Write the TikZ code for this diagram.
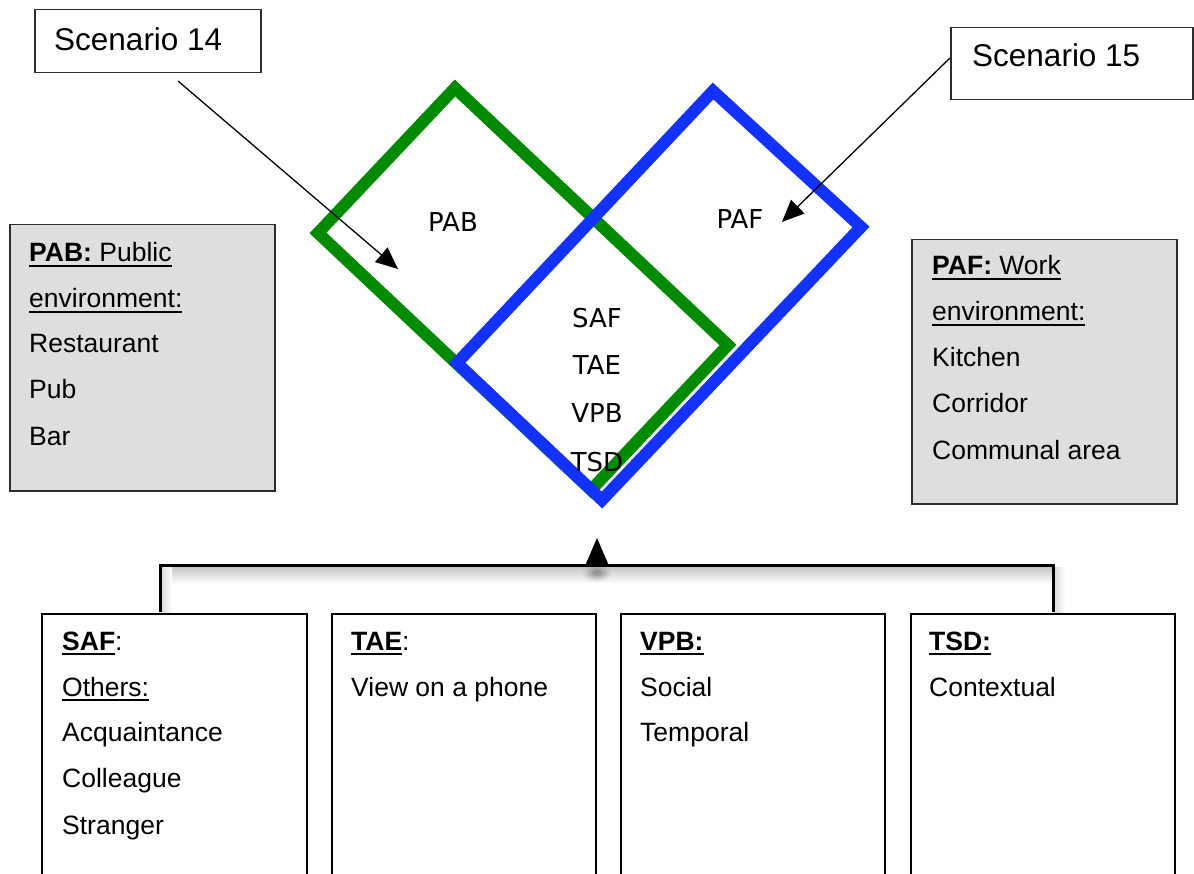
\documentclass[tikz,border=0pt]{standalone}
\usepackage{fontspec}
\setmainfont{Liberation Sans}
\newfontfamily\dejavu{DejaVu Sans}
\usetikzlibrary{arrows.meta}

% underline drawn as a rule under the measured text
\newsavebox{\ulsave}
\newcommand{\ulbox}[1]{\sbox{\ulsave}{#1}\rlap{\rule[-4.6pt]{\wd\ulsave}{1.7pt}}\usebox{\ulsave}}

\definecolor{vgreen}{RGB}{0,138,0}
\definecolor{vblue}{RGB}{20,50,255}
\definecolor{panelgray}{RGB}{222,222,222}
\definecolor{edgegray}{RGB}{45,45,45}

\begin{document}
\begin{tikzpicture}[x=1pt,y=-1pt,
  txt/.style={anchor=base west, inner sep=0, font=\fontsize{26.5}{30}\selectfont},
  lbl/.style={anchor=center, inner sep=0, font=\dejavu\fontsize{26}{30}\selectfont},
  callout/.style={draw=edgegray, line width=1.5pt, fill=white, anchor=north west, inner sep=0},
  panel/.style={draw=edgegray, line width=1.5pt, fill=panelgray, anchor=north west, inner sep=0},
  infobox/.style={draw=black, line width=1.8pt, fill=white, anchor=north west, inner sep=0},
  pointer/.style={line width=1.3pt, -{Triangle[length=22pt, width=19pt]}},
  bracket/.style={line width=3pt, line join=miter},
]
\useasboundingbox (0,0) rectangle (1194,874);
\clip (0,0) rectangle (1194,874);

% the two overlapping frames
\draw[vgreen, line width=12pt, line join=miter]
  (455,88) -- (728,345) -- (591,490) -- (318,233) -- cycle;
\draw[vblue, line width=12pt, line join=miter]
  (713,91) -- (861,227) -- (602,500) -- (457,363) -- cycle;

\node[lbl] (pab) at (453,222) {PAB};
\node[lbl] (paf) at (740,219) {PAF};
\node[lbl] (saf) at (597,318) {SAF};
\node[lbl] (tae) at (597,365) {TAE};
\node[lbl] (vpb) at (597,413) {VPB};
\node[lbl] (tsd) at (597,462) {TSD};

% scenario callouts
\node[callout, minimum width=226pt, minimum height=63pt] (s14) at (34,9) {};
\node[txt, font=\fontsize{31.5}{36}\selectfont] (s14t) at (54,51) {Scenario 14};
\node[callout, minimum width=242pt, minimum height=72pt] (s15) at (950,27) {};
\node[txt, font=\fontsize{31.5}{36}\selectfont] (s15t) at (972,67) {Scenario 15};

\coordinate (a14s) at (178,81);
\coordinate (a14e) at (398,269);
\coordinate (a15s) at (950,58);
\coordinate (a15e) at (782,222);
\draw[pointer] (a14s) -- (a14e);
\draw[pointer] (a15s) -- (a15e);

% side panels
\node[panel, minimum width=265pt, minimum height=266pt] (pabbox) at (9,224) {};
\node[txt] (pab1) at (29,262) {\ulbox{\textbf{PAB:} Public}};
\node[txt] (pab2) at (29,308) {\ulbox{environment:}};
\node[txt] (pab3) at (29,353) {Restaurant};
\node[txt] (pab4) at (29,399) {Pub};
\node[txt] (pab5) at (29,445) {Bar};

\node[panel, minimum width=265pt, minimum height=264pt] (pafbox) at (911,239) {};
\node[txt] (paf1) at (932,275) {\ulbox{\textbf{PAF:} Work}};
\node[txt] (paf2) at (932,321) {\ulbox{environment:}};
\node[txt] (paf3) at (932,367) {Kitchen};
\node[txt] (paf4) at (932,413) {Corridor};
\node[txt] (paf5) at (932,459) {Communal area};

% soft shadow under the bracket
\shade[top color=black!22, bottom color=white] (160,567) rectangle (1053,584);
\shade[left color=black!15, right color=white] (161,567) rectangle (172,612);
\shade[left color=black!15, right color=white] (1054,567) rectangle (1065,612);
\foreach \r/\o in {14/0.05,11/0.07,8/0.09,5/0.12}
  \fill[black, opacity=\o] (597,573) ellipse ({\r pt} and {0.6*\r pt});

% bottom boxes
\node[infobox, minimum width=265pt, minimum height=300pt] (b1) at (41,613) {};
\node[infobox, minimum width=264pt, minimum height=300pt] (b2) at (331,613) {};
\node[infobox, minimum width=264pt, minimum height=300pt] (b3) at (620,613) {};
\node[infobox, minimum width=264pt, minimum height=300pt] (b4) at (910,613) {};

\node[txt] (saf1) at (62,650) {\ulbox{\textbf{SAF}}:};
\node[txt] (saf2) at (62,696) {\ulbox{Others:}};
\node[txt] (saf3) at (62,741) {Acquaintance};
\node[txt] (saf4) at (62,787) {Colleague};
\node[txt] (saf5) at (62,834) {Stranger};

\node[txt] (tae1) at (351,650) {\ulbox{\textbf{TAE}}:};
\node[txt] (tae2) at (351,696) {View on a phone};

\node[txt] (vpb1) at (640,650) {\ulbox{\textbf{VPB:}}};
\node[txt] (vpb2) at (640,696) {Social};
\node[txt] (vpb3) at (640,741) {Temporal};

\node[txt] (tsd1) at (929,650) {\ulbox{\textbf{TSD:}}};
\node[txt] (tsd2) at (929,696) {Contextual};

% bracket joining the boxes to the frames
\coordinate (j1) at (160,612);
\coordinate (j4) at (1053,612);
\coordinate (jl) at (160,565);
\coordinate (jr) at (1053,565);
\coordinate (jm) at (597,565);
\coordinate (tip) at (597,538);
\draw[bracket] (j1) -- (jl) -- (jr) -- (j4);
\draw[line width=1.5pt, -{Triangle[length=26pt, width=22pt]}] (jm) -- (tip);
\end{tikzpicture}
\end{document}
